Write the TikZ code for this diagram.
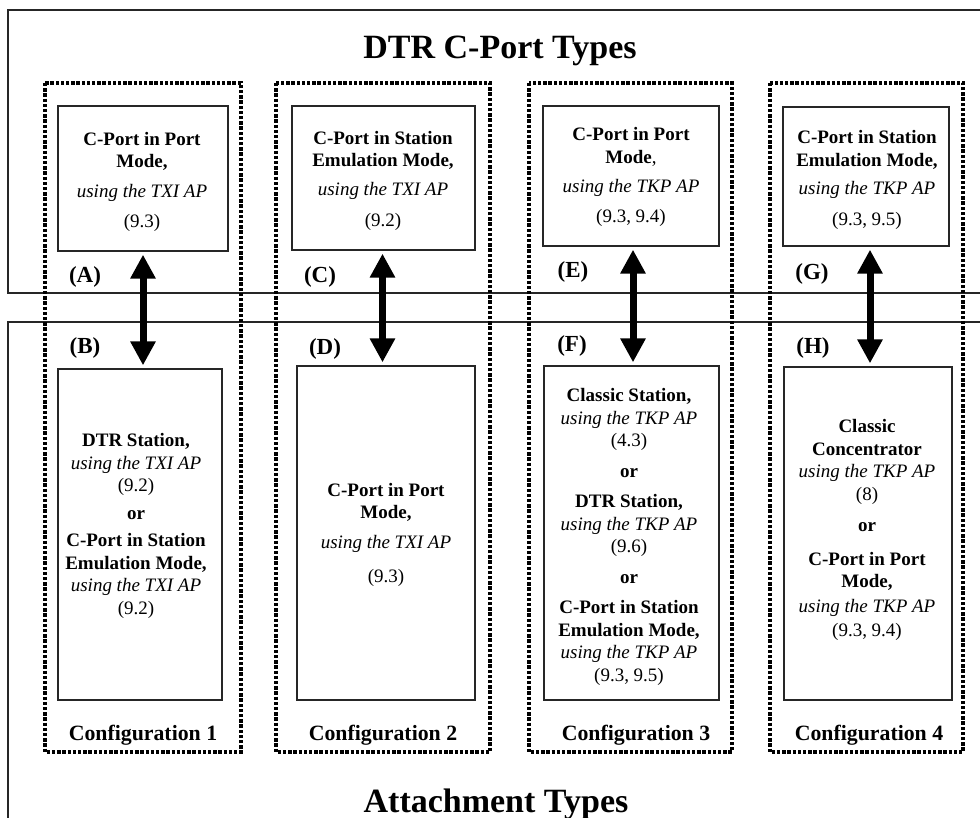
\documentclass[tikz,border=0pt]{standalone}
\usepackage{fontspec}
\setmainfont{Liberation Serif}
\usetikzlibrary{arrows.meta}
\begin{document}
\begin{tikzpicture}[x=1pt,y=-1pt,
  frame/.style={draw=black!85, line width=1.4pt},
  cfg/.style={draw=black, line width=3.6pt, dash pattern=on 3.4pt off 1.8pt},
  box/.style={draw=black!85, line width=1.3pt, inner sep=0pt},
  txt/.style={align=center, inner sep=0pt, font=\fontsize{19}{22.5}\selectfont},
  tag/.style={font=\fontsize{23}{25}\selectfont\bfseries, inner sep=0pt},
  cfglabel/.style={font=\fontsize{21.8}{24}\selectfont\bfseries, inner sep=0pt},
  title/.style={font=\fontsize{34}{38}\selectfont\bfseries, inner sep=0pt, anchor=base},
  link/.style={line width=7pt, shorten <=3pt, shorten >=3pt,
    {Triangle[length=24pt,width=24pt]}-{Triangle[length=24pt,width=24pt]}},
]
\useasboundingbox (0,0) rectangle (980,818);
\clip (0,0) rectangle (980,818);

% the two type areas
\draw[frame] (8,10) rectangle (995,293);
\draw[frame] (8,322) rectangle (995,835);
\node[title] (ttop) at (500,59) {DTR C-Port Types};
\node[title] (tbot) at (496,812) {Attachment Types};

% configuration frames
\draw[cfg] (45,83) rectangle (241,752);
\draw[cfg] (276,83) rectangle (490,752);
\draw[cfg] (529,83) rectangle (732,752);
\draw[cfg] (770,83) rectangle (963,752);

% C-port boxes
\node[box, minimum width=170pt, minimum height=145pt] (A) at (143,178.5) {};
\node[box, minimum width=183pt, minimum height=144pt] (C) at (383.5,178) {};
\node[box, minimum width=176pt, minimum height=140pt] (E) at (631,176) {};
\node[box, minimum width=166pt, minimum height=139pt] (G) at (866,176.5) {};

% attachment boxes
\node[box, minimum width=164pt, minimum height=331pt] (B) at (140,534.5) {};
\node[box, minimum width=178pt, minimum height=334pt] (D) at (386,533) {};
\node[box, minimum width=175pt, minimum height=334pt] (F) at (631.5,533) {};
\node[box, minimum width=168pt, minimum height=333pt] (H) at (868,533.5) {};

% box texts
\node[txt] (Atxt) at (142,182) {\textbf{C-Port in Port}\\\textbf{Mode,}\\[7pt]\textit{using the TXI AP}\\[8pt](9.3)};
\node[txt] (Ctxt) at (383,181) {\textbf{C-Port in Station}\\\textbf{Emulation Mode,}\\[6pt]\textit{using the TXI AP}\\[9pt](9.2)};
\node[txt] (Etxt) at (631,177) {\textbf{C-Port in Port}\\\textbf{Mode},\\[7pt]\textit{using the TKP AP}\\[7pt](9.3, 9.4)};
\node[txt] (Gtxt) at (867,180) {\textbf{C-Port in Station}\\\textbf{Emulation Mode,}\\[6pt]\textit{using the TKP AP}\\[8pt](9.3, 9.5)};

\node[txt] (Btxt) at (136,526) {\textbf{DTR Station,}\\\textit{using the TXI AP}\\(9.2)\\[5pt]\textbf{or}\\[5pt]\textbf{C-Port in Station}\\\textbf{Emulation Mode,}\\\textit{using the TXI AP}\\(9.2)};
\node[txt] (Dtxt) at (386,535) {\textbf{C-Port in Port}\\\textbf{Mode,}\\[7pt]\textit{using the TXI AP}\\[12pt](9.3)};
\node[txt] (Ftxt) at (629,537) {\textbf{Classic Station,}\\\textit{using the TKP AP}\\(4.3)\\[8pt]\textbf{or}\\[8pt]\textbf{DTR Station,}\\\textit{using the TKP AP}\\(9.6)\\[8pt]\textbf{or}\\[8pt]\textbf{C-Port in Station}\\\textbf{Emulation Mode,}\\\textit{using the TKP AP}\\(9.3, 9.5)};
\node[txt] (Htxt) at (867,530) {\textbf{Classic}\\\textbf{Concentrator}\\\textit{using the TKP AP}\\(8)\\[9pt]\textbf{or}\\[11pt]\textbf{C-Port in Port}\\\textbf{Mode,}\\[2pt]\textit{using the TKP AP}\\[2pt](9.3, 9.4)};

% interface letters
\node[tag] (lA) at (85,277) {(A)};
\node[tag] (lB) at (85,348) {(B)};
\node[tag] (lC) at (320,277) {(C)};
\node[tag] (lD) at (325,349) {(D)};
\node[tag] (lE) at (573,272) {(E)};
\node[tag] (lF) at (572,346) {(F)};
\node[tag] (lG) at (812,274) {(G)};
\node[tag] (lH) at (813,348) {(H)};

% configuration captions
\node[cfglabel] (c1) at (143,735) {Configuration 1};
\node[cfglabel] (c2) at (383,735) {Configuration 2};
\node[cfglabel] (c3) at (636,735) {Configuration 3};
\node[cfglabel] (c4) at (869,735) {Configuration 4};

% links between C-port and attachment
\draw[link] (A.south) -- (A.south |- B.north);
\draw[link] ([xshift=-1pt]C.south) -- ([xshift=-1pt]C.south |- D.north);
\draw[link] ([xshift=2pt]E.south) -- ([xshift=2pt]E.south |- F.north);
\draw[link] ([xshift=4pt]G.south) -- ([xshift=4pt]G.south |- H.north);
\end{tikzpicture}
\end{document}
